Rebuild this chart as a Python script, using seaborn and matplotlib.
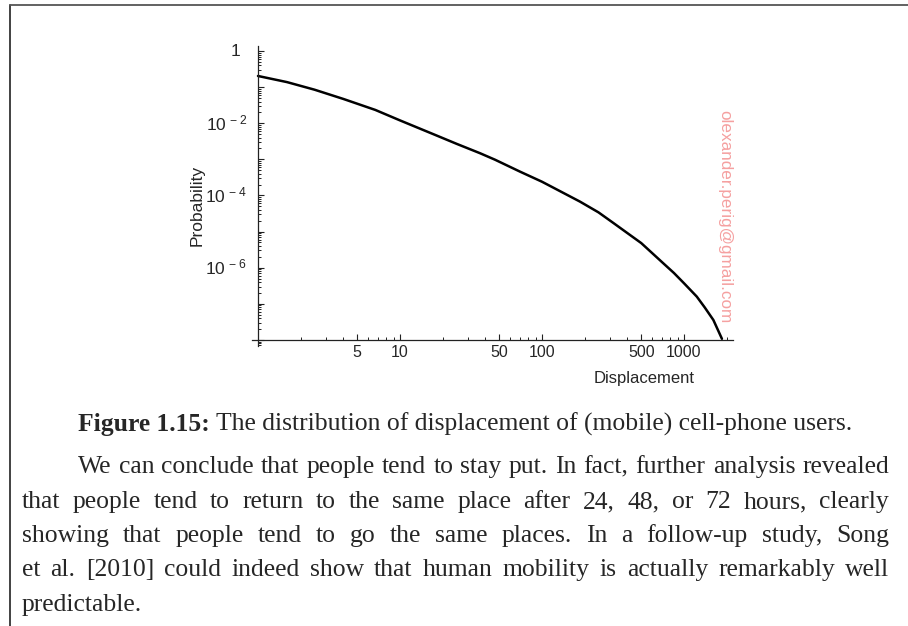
import numpy as np
import matplotlib
matplotlib.use("Agg")
import matplotlib.pyplot as plt
import matplotlib.ticker as mticker
from matplotlib.lines import Line2D
import seaborn as sns

# values
displacement = [1, 1.6, 2.5, 4, 6.7, 10, 17.6, 25, 36.6, 46.7, 70, 100, 185, 250,
                320, 500, 715, 850, 1000, 1230, 1400, 1610, 1850]
probability = [0.204, 0.138, 0.0851, 0.047, 0.0234, 0.0120, 0.00479, 0.0027, 0.00148,
               0.000977, 0.000457, 0.000240, 6.76e-5, 3.4e-5, 1.70e-5, 4.79e-6,
               1.32e-6, 7.1e-7, 3.7e-7, 1.58e-7, 7.9e-8, 3.55e-8, 1.07e-8]

x_ticks = [5, 10, 50, 100, 500, 1000]
x_labels = ["5", "10", "50", "100", "500", "1000"]
y_ticks = [1, 1e-2, 1e-4, 1e-6]
y_labels = ["1", r"$\mathregular{10^{\,-2}}$", r"$\mathregular{10^{\,-4}}$", r"$\mathregular{10^{\,-6}}$"]

caption_bold = "Figure 1.15:"
caption_text = "The distribution of displacement of (mobile) cell-phone users."
paragraph = [
    "We can conclude that people tend to stay put. In fact, further analysis revealed",
    "that people tend to return to the same place after 24, 48, or 72 hours, clearly",
    "showing that people tend to go the same places.  In a follow-up study, Song",
    "et al. [2010] could indeed show that human mobility is actually remarkably well",
    "predictable.",
]
watermark = "olexander.perig@gmail.com"

sns.set_style("white")
plt.rcParams["font.family"] = ["Liberation Sans", "DejaVu Sans"]

W, H = 908, 626
fig = plt.figure(figsize=(W / 100, H / 100), dpi=100)
ax = fig.add_axes([252 / W, 1 - 346 / H, 481 / W, 300 / H])

sns.lineplot(x=displacement, y=probability, ax=ax, color="black", linewidth=1.8, sort=True)
ax.set_xscale("log")
ax.set_yscale("log")
ax.set_xlim(10 ** (-6 / 142), 10 ** (475 / 142))
ax.set_ylim(10 ** -8.17, 10 ** 0.14)

for s in ["top", "right"]:
    ax.spines[s].set_visible(False)
ax.spines["left"].set_position(("data", 1))
ax.spines["bottom"].set_position(("data", 1e-8))
for s in ["left", "bottom"]:
    ax.spines[s].set_linewidth(0.9)
    ax.spines[s].set_color("#222222")

ax.xaxis.set_major_locator(mticker.FixedLocator(x_ticks))
ax.xaxis.set_major_formatter(mticker.FixedFormatter(x_labels))
ax.xaxis.set_minor_locator(mticker.LogLocator(base=10, subs=(2, 3, 4, 6, 7, 8, 9), numticks=20))
ax.xaxis.set_minor_formatter(mticker.NullFormatter())

ax.yaxis.set_major_locator(mticker.LogLocator(base=10, numticks=20))
ax.yaxis.set_major_formatter(mticker.NullFormatter())
ax.yaxis.set_minor_locator(mticker.LogLocator(base=10, subs=np.arange(2, 10), numticks=20))
ax.yaxis.set_minor_formatter(mticker.NullFormatter())
label_right = [240, 247, 247, 247]
for yv, lab, xr in zip(y_ticks, y_labels, label_right):
    ax.text((xr - 252) / 481, yv, lab, transform=ax.get_yaxis_transform(), ha="right",
            va="center", fontsize=12.5)

ax.tick_params(axis="both", which="both", direction="in", color="#222222")
ax.tick_params(axis="y", which="both", left=True)
ax.tick_params(axis="x", which="both", bottom=True)
ax.tick_params(which="major", length=4.5, width=0.8)
ax.tick_params(which="minor", length=2.5, width=0.7)
ax.tick_params(axis="x", which="major", labelsize=11.5, pad=4)
ax.grid(False)

ax.set_xlabel("Displacement", fontsize=12)
ax.xaxis.set_label_coords((644 - 252) / 481, -0.085)
ax.set_ylabel("Probability", fontsize=12.5)
ax.yaxis.set_label_coords((205 - 252) / 481, 0.47)

fig.text(725 / W, 1 - 217 / H, watermark, rotation=-90, color="#f5a0a0", fontsize=12.3,
         ha="center", va="center")

# page frame
fig.add_artist(Line2D([10 / W, 10 / W], [0, 1 - 5 / H], color="#333333", linewidth=1.3))
fig.add_artist(Line2D([10 / W, 1], [1 - 5 / H, 1 - 5 / H], color="#555555", linewidth=1.3))

# caption and paragraph text, sized so the caption spans the same width as the reference
serif = ["Liberation Serif", "DejaVu Serif"]
renderer = fig.canvas.get_renderer()


def caption_width(size):
    a = fig.text(0, 0, caption_bold, fontsize=size, family=serif, weight="bold")
    b = fig.text(0, 0, caption_text, fontsize=size, family=serif)
    w = a.get_window_extent(renderer).width + b.get_window_extent(renderer).width
    a.remove()
    b.remove()
    return w + size * 0.25 * 100 / 72


fs = 15 * 775 / caption_width(15)

cb = fig.text(0, 1 - 431 / H, caption_bold, fontsize=fs, family=serif, weight="bold", va="baseline")
ct = fig.text(0, 1 - 431 / H, caption_text, fontsize=fs, family=serif, va="baseline")
wb = cb.get_window_extent(renderer).width
wt = ct.get_window_extent(renderer).width
sp = fs * 0.25 * 100 / 72
x0 = 465 - (wb + sp + wt) / 2
cb.set_x(x0 / W)
ct.set_x((x0 + wb + sp) / W)

baselines = [473, 508, 542, 576, 611]
starts = [78, 22, 22, 22, 22]
for i, line in enumerate(paragraph):
    words = line.split()
    texts = [fig.text(0, 1 - baselines[i] / H, w, fontsize=fs, family=serif, va="baseline")
             for w in words]
    widths = [t.get_window_extent(renderer).width for t in texts]
    if i < len(paragraph) - 1:
        gap = (889 - starts[i] - sum(widths)) / (len(words) - 1)
    else:
        gap = sp
    x = starts[i]
    for t, w in zip(texts, widths):
        t.set_x(x / W)
        x += w + gap

fig.savefig("out.png", dpi=100)
